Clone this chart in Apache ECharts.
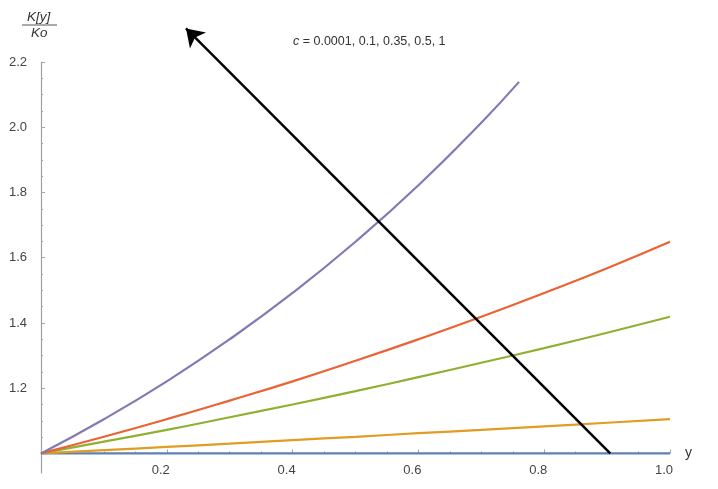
<!DOCTYPE html>
<html>
<head>
<meta charset="utf-8">
<script src="https://cdn.jsdelivr.net/npm/echarts@6/dist/echarts.min.js"></script>
<style>html,body{margin:0;padding:0;background:#fff}#c{width:718px;height:489px}</style>
</head>
<body>
<div id="c"></div>
<script>
// x positions (y variable)
const xsFull = [0, 0.1, 0.2, 0.3, 0.4, 0.5, 0.6, 0.7, 0.8, 0.9, 1.0];
const xsPurple = [0, 0.1, 0.2, 0.3, 0.4, 0.5, 0.6, 0.7, 0.76];
// K[y]/Ko
const c00001 = [1.000, 1.000, 1.000, 1.000, 1.000, 1.000, 1.000, 1.000, 1.000, 1.000, 1.0001];
const c01 = [1.000, 1.010, 1.020, 1.030, 1.041, 1.051, 1.062, 1.072, 1.083, 1.094, 1.105];
const c035 = [1.000, 1.036, 1.072, 1.111, 1.150, 1.191, 1.234, 1.278, 1.323, 1.370, 1.419];
const c05 = [1.000, 1.051, 1.105, 1.162, 1.221, 1.284, 1.350, 1.419, 1.492, 1.568, 1.649];
const c1 = [1.000, 1.105, 1.221, 1.350, 1.492, 1.649, 1.822, 2.014, 2.139];
// arrow annotation (start, tip) in data units
const arrowStart = [0.905, 1.0];
const arrowEnd = [0.2305, 2.303];
// tick labels
const yMajor = [1.0, 1.2, 1.4, 1.6, 1.8, 2.0, 2.2];
const yLabels = [1.2, 1.4, 1.6, 1.8, 2.0, 2.2];
const yMinor = [];
for (let i = 0; i < yMajor.length - 1; i++) {
  for (let k = 1; k < 4; k++) yMinor.push(+(yMajor[i] + k * 0.05).toFixed(3));
}
const colors = ['#5E81B5', '#E19C24', '#8FB032', '#EB6235', '#8778B3'];
const names = ['0.0001', '0.1', '0.35', '0.5', '1'];

const FONT = 'Liberation Sans Narrow, Liberation Sans, sans-serif';
const zip = (xs, ys) => xs.map((x, i) => [x, ys[i]]);
const seriesData = [
  zip(xsFull, c00001), zip(xsFull, c01), zip(xsFull, c035), zip(xsFull, c05), zip(xsPurple, c1)
];

const chart = echarts.init(document.getElementById('c'));
const Y_MIN = 0.94, Y_MAX = 2.2, GRID_H = 411;
const xOffset = -(1.0 - Y_MIN) / (Y_MAX - Y_MIN) * GRID_H;

chart.setOption({
  animation: false,
  backgroundColor: '#fff',
  title: {
    text: '{i|c} = 0.0001, 0.1, 0.35, 0.5, 1',
    left: 288, top: 30,
    textStyle: {
      fontSize: 12.5, fontWeight: 'normal', color: '#333', fontFamily: FONT,
      rich: { i: { fontStyle: 'italic', fontSize: 12.5, color: '#333', fontFamily: FONT } }
    }
  },
  graphic: [
    { type: 'text', left: 27, top: 10, style: { text: 'K[y]', fontSize: 13.5, fontStyle: 'italic', fill: '#333', fontFamily: FONT } },
    { type: 'line', shape: { x1: 22, y1: 25, x2: 57, y2: 25 }, style: { stroke: '#555', lineWidth: 1 } },
    { type: 'text', left: 31, top: 26, style: { text: 'Ko', fontSize: 13.5, fontStyle: 'italic', fill: '#333', fontFamily: FONT } }
  ],
  grid: { left: 41, top: 62, width: 629, height: GRID_H, containLabel: false },
  xAxis: {
    type: 'value', min: 0, max: 1, interval: 0.2,
    offset: xOffset,
    name: 'y', nameLocation: 'end', nameGap: 15,
    nameTextStyle: { fontSize: 14, color: '#333', fontFamily: FONT, verticalAlign: 'middle', padding: [0, 0, 4, 0] },
    axisLine: { show: true, lineStyle: { color: '#a0a0a0', width: 1.2 } },
    axisTick: { show: true, inside: true, length: 4, lineStyle: { color: '#a6a6a6' } },
    minorTick: { show: true, splitNumber: 4, length: 2, lineStyle: { color: '#a6a6a6' } },
    axisLabel: {
      margin: 10, fontSize: 13, color: '#444', fontFamily: FONT, padding: [0, 12, 0, 0],
      formatter: v => (v === 0 ? '' : v.toFixed(1))
    },
    splitLine: { show: false }
  },
  yAxis: [
    {
      type: 'value', min: Y_MIN, max: Y_MAX, position: 'left',
      axisLine: { show: true, onZero: false, lineStyle: { color: '#a0a0a0', width: 1.2 } },
      axisTick: { show: true, inside: true, length: 4, customValues: yMajor, lineStyle: { color: '#a6a6a6' } },
      axisLabel: {
        margin: 14, fontSize: 13, color: '#444', fontFamily: FONT, customValues: yLabels,
        formatter: v => v.toFixed(1)
      },
      splitLine: { show: false }
    },
    {
      type: 'value', min: Y_MIN, max: Y_MAX, position: 'left',
      axisLine: { show: false, onZero: false },
      axisTick: { show: true, inside: true, length: 2, customValues: yMinor, lineStyle: { color: '#a6a6a6' } },
      axisLabel: { show: false },
      splitLine: { show: false }
    }
  ],
  series: seriesData.map((d, i) => ({
    type: 'line', name: names[i], data: d, smooth: true, showSymbol: false,
    lineStyle: { color: colors[i], width: 2.2 }, z: 3 + i
  })).concat([{
    type: 'lines', coordinateSystem: 'cartesian2d', clip: false, z: 10,
    symbol: ['none', 'arrow'], symbolSize: [13, 17],
    lineStyle: { color: '#000', width: 2.5, opacity: 1, curveness: 0 },
    data: [{ coords: [arrowStart, arrowEnd] }]
  }])
});
</script>
</body>
</html>
